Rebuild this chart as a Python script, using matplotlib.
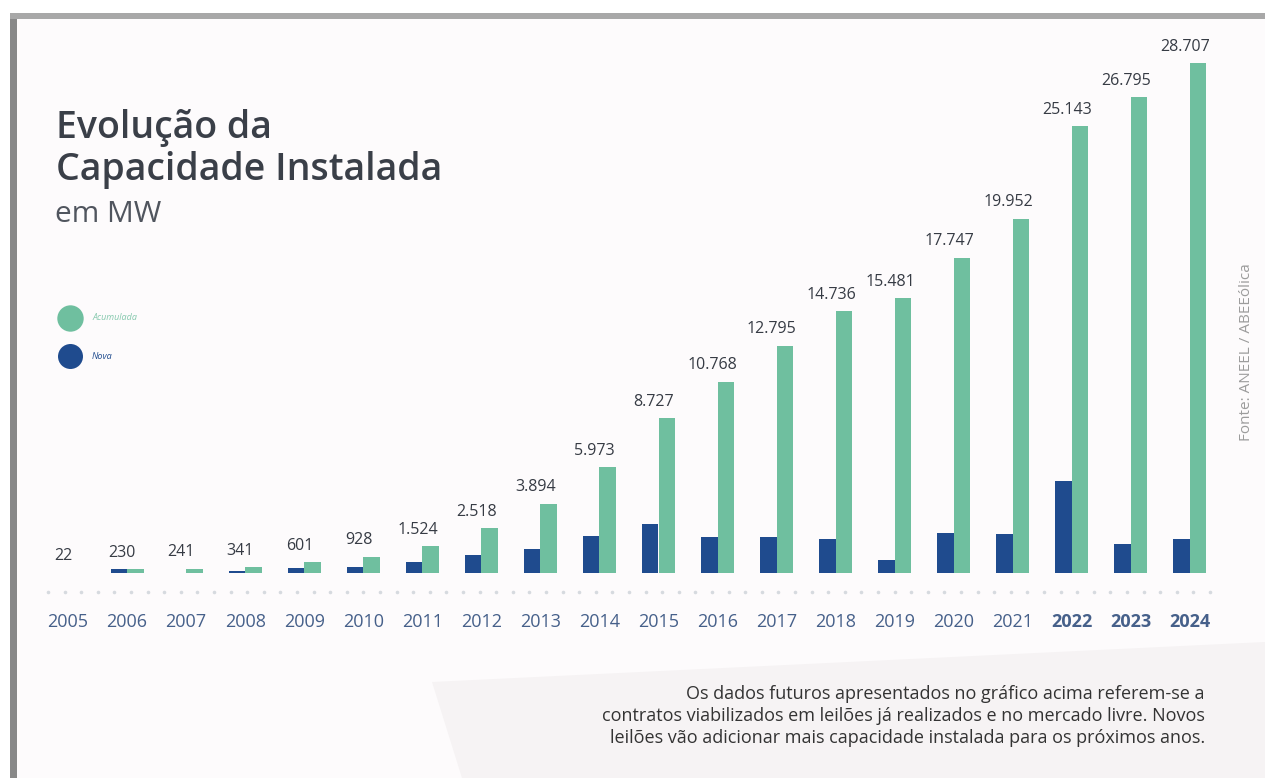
import numpy as np
import matplotlib
matplotlib.use('Agg')
import matplotlib.pyplot as plt
from matplotlib.lines import Line2D
from matplotlib.patches import Rectangle, Polygon

# capacidade instalada (MW)
anos = [2005, 2006, 2007, 2008, 2009, 2010, 2011, 2012, 2013, 2014,
        2015, 2016, 2017, 2018, 2019, 2020, 2021, 2022, 2023, 2024]
acumulada = [22, 230, 241, 341, 601, 928, 1524, 2518, 3894, 5973,
             8727, 10768, 12795, 14736, 15481, 17747, 19952, 25143, 26795, 28707]
nova = [22, 208, 11, 100, 260, 327, 596, 994, 1376, 2079,
        2754, 2041, 2027, 1941, 745, 2266, 2205, 5191, 1652, 1912]
anos_destaque = [2022, 2023, 2024]

VERDE = '#6fbf9f'
AZUL = '#1f4b8e'
TEXTO = '#363b44'
FONTE = ['Open Sans', 'DejaVu Sans']

W, H = 1265, 778


def fx(x):
    return x / W


def fy(y):
    return 1 - y / H


plt.rcParams['font.family'] = FONTE
fig = plt.figure(figsize=(W / 100, H / 100), dpi=100, facecolor='white')

# fundo e moldura
fig.add_artist(Rectangle((fx(17), 0), 1, fy(19), transform=fig.transFigure,
                         facecolor='#fdfbfc', edgecolor='none', zorder=0))
fig.add_artist(Polygon([(fx(432), fy(682)), (1, fy(642)), (1, 0), (fx(462), 0)],
                       closed=True, transform=fig.transFigure,
                       facecolor='#f6f3f4', edgecolor='none', zorder=0))
fig.add_artist(Rectangle((fx(10), 0), fx(7), fy(13), transform=fig.transFigure,
                         facecolor='#888888', edgecolor='none', zorder=1))
fig.add_artist(Rectangle((fx(10), fy(19)), 1, 6 / H, transform=fig.transFigure,
                         facecolor='#a8a8a8', edgecolor='none', zorder=1))

ax = fig.add_axes([fx(30), fy(573), (1235 - 30) / W, 533 / H])
ax.set_facecolor('none')

x = np.arange(len(anos))
larg = 0.28
ax.bar(x - larg / 2, nova, larg, color=AZUL, zorder=2)
ax.bar(x + larg / 2, acumulada, larg, color=VERDE, zorder=2)

for xi, v in zip(x, acumulada):
    ax.annotate(f'{v:,}'.replace(',', '.'), (xi - 0.08, v), xytext=(0, 6),
                textcoords='offset points', ha='center', va='bottom',
                fontsize=11.5, color=TEXTO)

ax.set_xlim((30 - 68) / 59.05, (1235 - 68) / 59.05)
ax.set_ylim(0, 30000)
ax.set_yticks([])
ax.set_xticks(x, [str(a) for a in anos])
ax.tick_params(axis='x', length=0, pad=29, labelsize=13, labelcolor='#46608a')
for lbl, a in zip(ax.get_xticklabels(), anos):
    if a in anos_destaque:
        lbl.set_fontweight('bold')
for s in ax.spines.values():
    s.set_visible(False)

# linha pontilhada sob as barras
xs = np.arange(48, 1212, 16.6)
fig.add_artist(Line2D(fx(xs), np.full(len(xs), fy(592)), ls='none', marker='o',
                      ms=2.6, mec='none', mfc='#d6dadf', transform=fig.transFigure))

# titulo
fig.text(fx(56), fy(128), 'Evolução da', fontsize=27, fontweight='semibold',
         color='#3a3f48', va='center')
fig.text(fx(56), fy(170), 'Capacidade Instalada', fontsize=27, fontweight='semibold',
         color='#3a3f48', va='center')
fig.text(fx(55), fy(214), 'em MW', fontsize=21.5, color='#50555e', va='center')

# legenda
fig.add_artist(Line2D([fx(70)], [fy(318)], marker='o', ms=19, mec='none',
                      mfc=VERDE, transform=fig.transFigure))
fig.add_artist(Line2D([fx(70)], [fy(356)], marker='o', ms=18, mec='none',
                      mfc=AZUL, transform=fig.transFigure))
fig.text(fx(92), fy(318), 'Acumulada', fontsize=6.5, style='italic',
         color='#86c9ae', va='center')
fig.text(fx(92), fy(356), 'Nova', fontsize=6.5, style='italic',
         color=AZUL, va='center')

fig.text(fx(1247), fy(352), 'Fonte: ANEEL / ABEEólica', rotation=90,
         fontsize=11, color='#9c9c9c', ha='center', va='center')

nota = ('Os dados futuros apresentados no gráfico acima referem-se a\n'
        'contratos viabilizados em leilões já realizados e no mercado livre. Novos\n'
        'leilões vão adicionar mais capacidade instalada para os próximos anos.')
fig.text(fx(1205), fy(716), nota, fontsize=13, color='#333333',
         ha='right', va='center', linespacing=1.3)

fig.savefig('out.png', dpi=100, facecolor=fig.get_facecolor())
